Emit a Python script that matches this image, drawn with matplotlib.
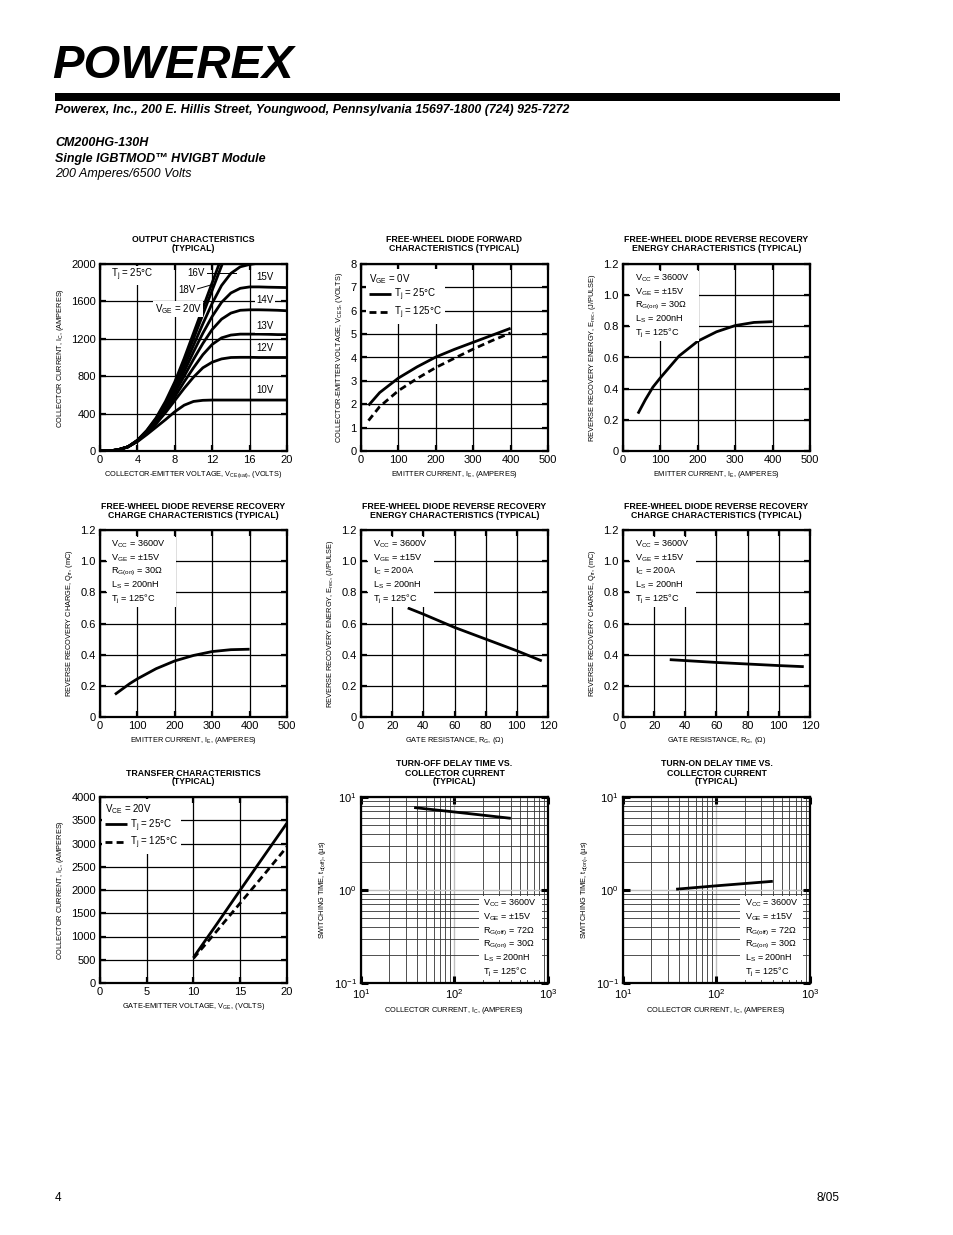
import numpy as np
import matplotlib.pyplot as plt
from matplotlib.patches import Rectangle
from matplotlib.ticker import NullFormatter

plt.rcParams['font.family'] = ['Liberation Sans', 'DejaVu Sans']
plt.rcParams['mathtext.default'] = 'regular'

# --- output characteristics (Tj = 25C) ---
vce = [0, 1, 2, 3, 4, 5, 6, 7, 8, 9, 10, 11, 12, 13, 14, 15, 16, 17, 18, 19, 20]
ic_out = {
    '10V': [0, 0, 15, 45, 100, 175, 255, 335, 420, 490, 530, 542, 545, 545, 545, 545, 545, 545, 545, 545, 545],
    '12V': [0, 0, 15, 45, 105, 190, 290, 410, 540, 670, 790, 890, 950, 985, 1000, 1002, 1002, 1000, 1000, 1000, 1000],
    '13V': [0, 0, 15, 45, 108, 195, 300, 430, 580, 740, 890, 1030, 1140, 1210, 1240, 1250, 1250, 1250, 1248, 1245, 1245],
    '14V': [0, 0, 15, 45, 110, 200, 310, 450, 620, 800, 980, 1150, 1300, 1410, 1475, 1505, 1510, 1510, 1508, 1505, 1500],
    '15V': [0, 0, 15, 45, 110, 205, 320, 470, 650, 850, 1060, 1260, 1440, 1590, 1690, 1740, 1755, 1755, 1752, 1750, 1748],
    '16V': [0, 0, 15, 45, 112, 210, 330, 490, 680, 900, 1130, 1360, 1580, 1770, 1900, 1970, 1995, 2010, 2015, 2015, 2015],
    '18V': [0, 0, 15, 45, 115, 215, 345, 510, 710, 950, 1200, 1460, 1720, 1980, 2240, 2500, 2760, 3000, 3200, 3400, 3600],
    '20V': [0, 0, 15, 45, 115, 220, 355, 530, 740, 990, 1260, 1530, 1800, 2070, 2340, 2600, 2860, 3100, 3300, 3500, 3700],
}

# --- free-wheel diode forward ---
ie_fwd = [20, 50, 100, 150, 200, 250, 300, 350, 400]
vf_25 = [1.95, 2.5, 3.12, 3.6, 4.02, 4.35, 4.65, 4.95, 5.25]
vf_125 = [1.3, 1.9, 2.58, 3.1, 3.57, 3.97, 4.36, 4.72, 5.05]

# --- reverse recovery vs emitter current ---
ie_rr = [40, 60, 80, 100, 150, 200, 250, 300, 350, 400]
erec_ie = [0.24, 0.33, 0.41, 0.47, 0.61, 0.705, 0.765, 0.805, 0.825, 0.83]
qrr_ie = [0.145, 0.18, 0.215, 0.245, 0.31, 0.36, 0.395, 0.42, 0.432, 0.435]

# --- reverse recovery vs gate resistance ---
rg = [30, 40, 60, 80, 100, 116]
erec_rg = [0.70, 0.66, 0.575, 0.50, 0.425, 0.36]
qrr_rg = [0.368, 0.362, 0.35, 0.34, 0.33, 0.323]

# --- transfer characteristics (VCE = 20V) ---
vge = [10, 12.5, 15, 17.5, 20]
ic_tr_25 = [550, 1270, 2000, 2720, 3440]
ic_tr_125 = [530, 1120, 1720, 2320, 2930]

# --- switching times ---
ic_sw = [37, 100, 400]
td_off = [7.7, 6.9, 5.9]
td_on = [1.02, 1.11, 1.24]

W, H = 954, 1235
fig = plt.figure(figsize=(W / 100, H / 100), dpi=100)

# header / footer layer in pixel coordinates
bg = fig.add_axes([0, 0, 1, 1])
bg.set_xlim(0, W)
bg.set_ylim(H, 0)
bg.axis('off')
bg.text(52, 66, 'POWEREX', fontsize=34, fontweight='heavy', style='italic',
        va='center', ha='left')
for k in range(3):
    bg.plot([54 + 6 * k, 70 + 6 * k], [86, 44], color='white', lw=1.3)
bg.fill_between([55, 840], 93, 101, color='black', lw=0)
bg.text(55, 110, 'Powerex, Inc., 200 E. Hillis Street, Youngwood, Pennsylvania 15697-1800 (724) 925-7272',
        fontsize=8.9, fontweight='bold', style='italic', va='center')
bg.text(55, 143, 'CM200HG-130H', fontsize=9, fontweight='bold', style='italic', va='center')
bg.text(55, 159, 'Single IGBTMOD\u2122 HVIGBT Module', fontsize=9, fontweight='bold', style='italic', va='center')
bg.text(55, 174, '200 Amperes/6500 Volts', fontsize=9, style='italic', va='center')
bg.text(55, 1198, '4', fontsize=8.5, va='center')
bg.text(840, 1198, '8/05', fontsize=8.5, va='center', ha='right')


def px_axes(x0, y0, x1, y1):
    return fig.add_axes([x0 / W, 1 - y1 / H, (x1 - x0) / W, (y1 - y0) / H])


def base_style(ax, title, xlabel, ylabel):
    ax.set_title(title, fontsize=6.3, fontweight='bold', linespacing=1.0, pad=9)
    ax.set_xlabel(xlabel, fontsize=5.3, labelpad=3)
    ax.set_ylabel(ylabel, fontsize=5.3, labelpad=4)
    for s in ax.spines.values():
        s.set_linewidth(1.6)
    ax.set_axisbelow(True)


def lin_style(ax, xticks, xlabels, yticks, ylabels):
    ax.set_xlim(xticks[0], xticks[-1])
    ax.set_ylim(yticks[0], yticks[-1])
    ax.set_xticks(xticks, xlabels)
    ax.set_yticks(yticks, ylabels)
    ax.tick_params(direction='in', length=4, width=1.6, labelsize=8, right=True, top=True, pad=3)
    ax.grid(True, color='black', lw=0.9)


def log_style(ax):
    ax.set_xscale('log')
    ax.set_yscale('log')
    ax.set_xlim(10, 1000)
    ax.set_ylim(0.1, 10)
    ax.tick_params(which='major', direction='in', length=5, width=2.2, labelsize=8,
                   right=True, top=True, pad=3)
    ax.tick_params(which='minor', length=0)
    ax.xaxis.set_minor_formatter(NullFormatter())
    ax.yaxis.set_minor_formatter(NullFormatter())
    ax.grid(True, which='major', color='0.75', lw=1.0)
    ax.grid(True, which='minor', color='0.2', lw=0.6)


def note(ax, x, y0, lines, width, dy=0.073, size=6.6):
    n = len(lines)
    ax.add_patch(Rectangle((x - 0.025, y0 - (n - 0.35) * dy), width, (n + 0.1) * dy,
                           transform=ax.transAxes, fc='white', ec='none', zorder=4))
    for i, s in enumerate(lines):
        ax.text(x, y0 - i * dy - 0.019, s, transform=ax.transAxes, fontsize=size,
                va='baseline', ha='left', zorder=5)


cols = [(100, 287), (361, 548), (623, 810)]
rows = [(264, 451), (530, 717), (797, 983)]
curve = dict(color='black', lw=2.0, solid_capstyle='butt')

rr_ie_note = ['V$_{CC}$ = 3600V', 'V$_{GE}$ = \u00b115V', 'R$_{G(on)}$ = 30\u03a9',
              'L$_S$ = 200nH', 'T$_j$ = 125\u00b0C']
rr_rg_note = ['V$_{CC}$ = 3600V', 'V$_{GE}$ = \u00b115V', 'I$_C$ = 200A',
              'L$_S$ = 200nH', 'T$_j$ = 125\u00b0C']
sw_note = ['V$_{CC}$ = 3600V', 'V$_{GE}$ = \u00b115V', 'R$_{G(off)}$ = 72\u03a9',
           'R$_{G(on)}$ = 30\u03a9', 'L$_S$ = 200nH', 'T$_j$ = 125\u00b0C']

# 1. output characteristics
ax = px_axes(cols[0][0], rows[0][0], cols[0][1], rows[0][1])
base_style(ax, 'OUTPUT CHARACTERISTICS\n(TYPICAL)',
           'COLLECTOR-EMITTER VOLTAGE, V$_{CE(sat)}$, (VOLTS)',
           'COLLECTOR CURRENT, I$_C$, (AMPERES)')
lin_style(ax, [0, 4, 8, 12, 16, 20], ['0', '4', '8', '12', '16', '20'],
          [0, 400, 800, 1200, 1600, 2000], ['0', '400', '800', '1200', '1600', '2000'])
for name, ys in ic_out.items():
    ax.plot(vce, ys, **curve)
ax.text(1.2, 1880, 'T$_j$ = 25\u00b0C', fontsize=7, va='center', bbox=dict(fc='white', ec='none', pad=1))
ax.text(10.3, 1905, '16V', fontsize=7, ha='center', va='center', bbox=dict(fc='white', ec='none', pad=1))
ax.plot([11.4, 14.5], [1900, 1900], color='black', lw=0.7)
ax.text(9.3, 1720, '18V', fontsize=7, ha='center', va='center', bbox=dict(fc='white', ec='none', pad=1))
ax.plot([10.3, 12.0], [1730, 1780], color='black', lw=0.7)
ax.text(10.9, 1520, 'V$_{GE}$ = 20V', fontsize=7, ha='right', va='center', bbox=dict(fc='white', ec='none', pad=1))
for lab, yy in [('15V', 1860), ('14V', 1612), ('13V', 1335), ('12V', 1100), ('10V', 650)]:
    ax.text(17.6, yy, lab, fontsize=7, ha='center', va='center', bbox=dict(fc='white', ec='none', pad=1))

# 2. diode forward
ax = px_axes(cols[1][0], rows[0][0], cols[1][1], rows[0][1])
base_style(ax, 'FREE-WHEEL DIODE FORWARD\nCHARACTERISTICS (TYPICAL)',
           'EMITTER CURRENT, I$_E$, (AMPERES)',
           'COLLECTOR-EMITTER VOLTAGE, V$_{CES}$, (VOLTS)')
lin_style(ax, [0, 100, 200, 300, 400, 500], ['0', '100', '200', '300', '400', '500'],
          list(range(9)), [str(v) for v in range(9)])
ax.plot(ie_fwd, vf_25, label='T$_j$ = 25\u00b0C', **curve)
ax.plot(ie_fwd, vf_125, ls=(0, (2.5, 1.5)), label='T$_j$ = 125\u00b0C', color='black', lw=2.0)
ax.legend(loc='upper left', title='V$_{GE}$ = 0V', alignment='left', fontsize=7, title_fontsize=7,
          frameon=True, fancybox=False, edgecolor='none', framealpha=1, handlelength=2.3,
          handletextpad=0.3, borderpad=0.3, labelspacing=0.15, borderaxespad=0.5)

# 3. Erec vs IE
ax = px_axes(cols[2][0], rows[0][0], cols[2][1], rows[0][1])
base_style(ax, 'FREE-WHEEL DIODE REVERSE RECOVERY\nENERGY CHARACTERISTICS (TYPICAL)',
           'EMITTER CURRENT, I$_E$, (AMPERES)',
           'REVERSE RECOVERY ENERGY, E$_{rec}$, (J/PULSE)')
lin_style(ax, [0, 100, 200, 300, 400, 500], ['0', '100', '200', '300', '400', '500'],
          [0, 0.2, 0.4, 0.6, 0.8, 1.0, 1.2], ['0', '0.2', '0.4', '0.6', '0.8', '1.0', '1.2'])
ax.plot(ie_rr, erec_ie, **curve)
note(ax, 0.064, 0.93, rr_ie_note, 0.37)

# 4. Qrr vs IE
ax = px_axes(cols[0][0], rows[1][0], cols[0][1], rows[1][1])
base_style(ax, 'FREE-WHEEL DIODE REVERSE RECOVERY\nCHARGE CHARACTERISTICS (TYPICAL)',
           'EMITTER CURRENT, I$_E$, (AMPERES)',
           'REVERSE RECOVERY CHARGE, Q$_{rr}$, (mC)')
lin_style(ax, [0, 100, 200, 300, 400, 500], ['0', '100', '200', '300', '400', '500'],
          [0, 0.2, 0.4, 0.6, 0.8, 1.0, 1.2], ['0', '0.2', '0.4', '0.6', '0.8', '1.0', '1.2'])
ax.plot(ie_rr, qrr_ie, **curve)
note(ax, 0.06, 0.93, rr_ie_note, 0.37)

# 5. Erec vs RG
ax = px_axes(cols[1][0], rows[1][0], cols[1][1], rows[1][1])
base_style(ax, 'FREE-WHEEL DIODE REVERSE RECOVERY\nENERGY CHARACTERISTICS (TYPICAL)',
           'GATE RESISTANCE, R$_G$, (\u03a9)',
           'REVERSE RECOVERY ENERGY, E$_{rec}$, (J/PULSE)')
lin_style(ax, [0, 20, 40, 60, 80, 100, 120], ['0', '20', '40', '60', '80', '100', '120'],
          [0, 0.2, 0.4, 0.6, 0.8, 1.0, 1.2], ['0', '0.2', '0.4', '0.6', '0.8', '1.0', '1.2'])
ax.plot(rg, erec_rg, **curve)
note(ax, 0.064, 0.93, rr_rg_note, 0.35)

# 6. Qrr vs RG
ax = px_axes(cols[2][0], rows[1][0], cols[2][1], rows[1][1])
base_style(ax, 'FREE-WHEEL DIODE REVERSE RECOVERY\nCHARGE CHARACTERISTICS (TYPICAL)',
           'GATE RESISTANCE, R$_G$, (\u03a9)',
           'REVERSE RECOVERY CHARGE, Q$_{rr}$, (mC)')
lin_style(ax, [0, 20, 40, 60, 80, 100, 120], ['0', '20', '40', '60', '80', '100', '120'],
          [0, 0.2, 0.4, 0.6, 0.8, 1.0, 1.2], ['0', '0.2', '0.4', '0.6', '0.8', '1.0', '1.2'])
ax.plot(rg, qrr_rg, **curve)
note(ax, 0.064, 0.93, rr_rg_note, 0.35)

# 7. transfer characteristics
ax = px_axes(cols[0][0], rows[2][0], cols[0][1], rows[2][1])
base_style(ax, 'TRANSFER CHARACTERISTICS\n(TYPICAL)',
           'GATE-EMITTER VOLTAGE, V$_{GE}$, (VOLTS)',
           'COLLECTOR CURRENT, I$_C$, (AMPERES)')
lin_style(ax, [0, 5, 10, 15, 20], ['0', '5', '10', '15', '20'],
          list(range(0, 4001, 500)), [str(v) for v in range(0, 4001, 500)])
ax.plot(vge, ic_tr_25, label='T$_j$ = 25\u00b0C', **curve)
ax.plot(vge, ic_tr_125, ls=(0, (2.5, 1.5)), label='T$_j$ = 125\u00b0C', color='black', lw=2.0)
ax.legend(loc='upper left', title='V$_{CE}$ = 20V', alignment='left', fontsize=7, title_fontsize=7,
          frameon=True, fancybox=False, edgecolor='none', framealpha=1, handlelength=2.3,
          handletextpad=0.3, borderpad=0.3, labelspacing=0.15, borderaxespad=0.2)

# 8. turn-off delay
ax = px_axes(cols[1][0], rows[2][0], cols[1][1], rows[2][1])
base_style(ax, 'TURN-OFF DELAY TIME VS.\nCOLLECTOR CURRENT\n(TYPICAL)',
           'COLLECTOR CURRENT, I$_C$, (AMPERES)',
           'SWITCHING TIME, t$_{d(off)}$, (\u00b5s)')
log_style(ax)
ax.plot(ic_sw, td_off, **curve)
note(ax, 0.655, 0.435, sw_note, 0.34, dy=0.074, size=6.5)

# 9. turn-on delay
ax = px_axes(cols[2][0], rows[2][0], cols[2][1], rows[2][1])
base_style(ax, 'TURN-ON DELAY TIME VS.\nCOLLECTOR CURRENT\n(TYPICAL)',
           'COLLECTOR CURRENT, I$_C$, (AMPERES)',
           'SWITCHING TIME, t$_{d(on)}$, (\u00b5s)')
log_style(ax)
ax.plot(ic_sw, td_on, **curve)
note(ax, 0.65, 0.435, sw_note, 0.34, dy=0.074, size=6.5)

fig.savefig('out.png', dpi=100, facecolor='white')
